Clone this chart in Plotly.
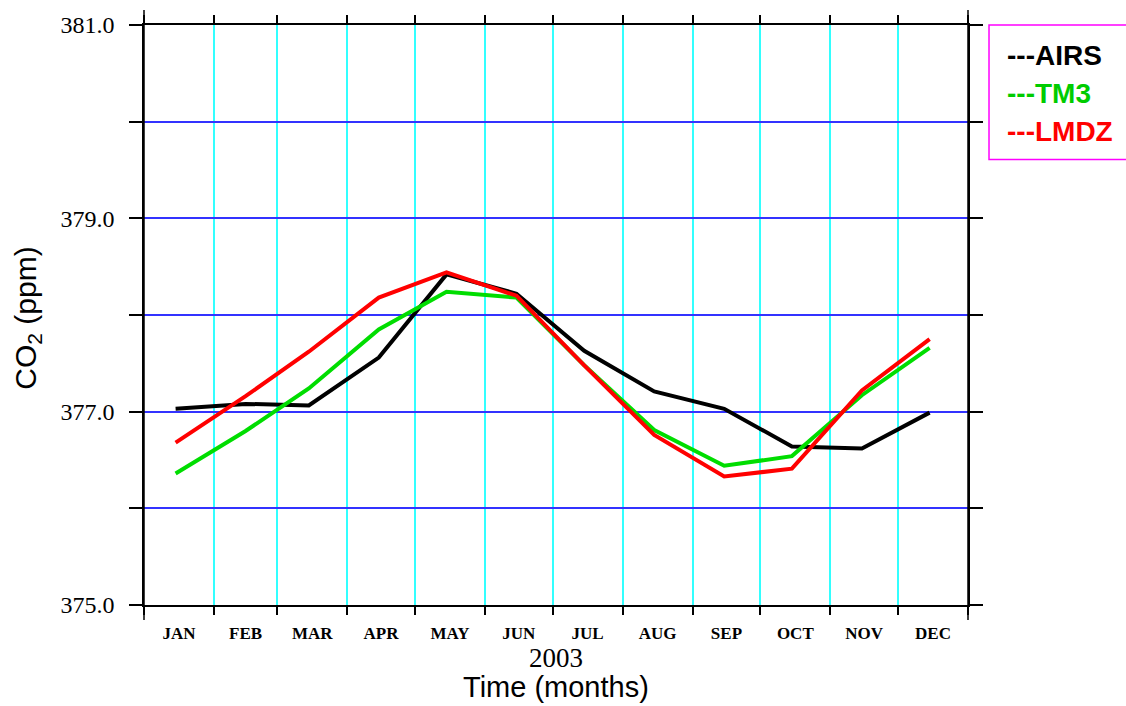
import pandas as pd
import plotly.graph_objects as go

# Monthly mean CO2 (ppm), 2003
months = ["JAN", "FEB", "MAR", "APR", "MAY", "JUN",
          "JUL", "AUG", "SEP", "OCT", "NOV", "DEC"]
airs = [377.03, 377.08, 377.065, 377.56, 378.42, 378.22,
        377.63, 377.21, 377.03, 376.64, 376.62, 376.99]
tm3 = [376.36, 376.80, 377.24, 377.85, 378.24, 378.18,
       377.48, 376.81, 376.44, 376.54, 377.17, 377.66]
lmdz = [376.68, 377.16, 377.62, 378.18, 378.44, 378.20,
        377.48, 376.76, 376.33, 376.41, 377.22, 377.75]

series_names = ["AIRS", "TM3", "LMDZ"]
series_colors = ["#000000", "#00dd00", "#ff0000"]
label_colors = ["#000000", "#00cc00", "#ff0000"]

y_major = [375, 377, 379, 381]
y_major_text = ["375.0", "377.0", "379.0", "381.0"]
y_minor = [376, 378, 380]

year = 2003
dates = [pd.Timestamp(year, m, 15) for m in range(1, 13)]
month_starts = list(pd.date_range(f"{year}-01-01", f"{year + 1}-01-01", freq="MS"))
month_mids = [a + (b - a) / 2 for a, b in zip(month_starts[:-1], month_starts[1:])]
x_range = [month_starts[0], month_starts[-1]]

fig = go.Figure()
for name, vals, col in zip(series_names, [airs, tm3, lmdz], series_colors):
    fig.add_trace(go.Scatter(x=dates, y=vals, mode="lines", name=name,
                             line=dict(color=col, width=4), showlegend=False))
# carrier for the top axis
fig.add_trace(go.Scatter(x=[x_range[0]], y=[None], xaxis="x2",
                         showlegend=False, hoverinfo="skip"))

serif = "Liberation Serif"
sans = "Liberation Sans"
grid_blue = "#3333ff"

fig.update_layout(
    width=1126, height=706,
    margin=dict(l=144, r=158, t=21, b=101),
    paper_bgcolor="white", plot_bgcolor="white",
    xaxis=dict(
        range=x_range, type="date",
        tickmode="array", tickvals=month_mids, ticktext=months,
        ticks="outside", ticklen=8, tickcolor="rgba(0,0,0,0)",
        ticklabelstandoff=4,
        tickfont=dict(family=serif, size=17, color="black", weight="bold"),
        showgrid=False, zeroline=False,
        showline=True, linecolor="black", linewidth=1.5,
        minor=dict(tickmode="array", tickvals=month_starts,
                   ticks="outside", ticklen=8, tickcolor="black", tickwidth=1.5,
                   showgrid=True, gridcolor="#33ffff", gridwidth=2),
    ),
    xaxis2=dict(
        range=x_range, type="date", overlaying="x", side="top", anchor="y",
        tickmode="array", tickvals=month_starts,
        ticks="outside", ticklen=8, tickcolor="black", tickwidth=1.5,
        showticklabels=False, showgrid=False, zeroline=False,
        showline=True, linecolor="black", linewidth=1.5,
    ),
    yaxis=dict(
        range=[375, 381], tickmode="array", tickvals=y_major, ticktext=y_major_text,
        ticks="outside", ticklen=13, tickcolor="black", tickwidth=1.5,
        ticklabelstandoff=10,
        tickfont=dict(family=serif, size=24, color="black"),
        showgrid=True, gridcolor=grid_blue, gridwidth=2, zeroline=False,
        showline=True, linecolor="black", linewidth=1.5, mirror="ticks",
        minor=dict(tickmode="array", tickvals=y_minor,
                   ticks="outside", ticklen=13, tickcolor="black", tickwidth=1.5,
                   showgrid=True, gridcolor=grid_blue, gridwidth=2),
    ),
    showlegend=False,
)

# Axis lines run a little past the plotting area
for xp in (0, 1):
    fig.add_shape(type="line", xref="paper", yref="paper",
                  x0=xp, x1=xp, y0=-0.026, y1=1.026,
                  line=dict(color="black", width=1.5), layer="above")

annotations = [
    dict(text=str(year), x=0.5, y=-0.091, xref="paper", yref="paper",
         showarrow=False, xanchor="center", yanchor="middle",
         font=dict(family=serif, size=27, color="black")),
    dict(text="Time (months)", x=0.5, y=-0.142, xref="paper", yref="paper",
         showarrow=False, xanchor="center", yanchor="middle",
         font=dict(family=sans, size=29, color="black")),
    dict(text="CO<sub>2</sub> (ppm)", x=-0.141, y=0.495, xref="paper", yref="paper",
         showarrow=False, xanchor="center", yanchor="middle", textangle=-90,
         font=dict(family=sans, size=30, color="black")),
]

# Key box
fig.add_shape(type="rect", xref="paper", yref="paper",
              x0=1.0255, x1=1.2, y0=0.768, y1=1.0,
              line=dict(color="#ff00ff", width=1.5), fillcolor="white")
key_y = [0.948, 0.882, 0.817]
for name, col, ky in zip(series_names, label_colors, key_y):
    annotations.append(dict(
        text="---" + name, x=1.045, y=ky, xref="paper", yref="paper",
        showarrow=False, xanchor="left", yanchor="middle",
        font=dict(family=sans, size=28, color=col, weight="bold")))

fig.update_layout(annotations=annotations)
fig.write_html("out.html")
